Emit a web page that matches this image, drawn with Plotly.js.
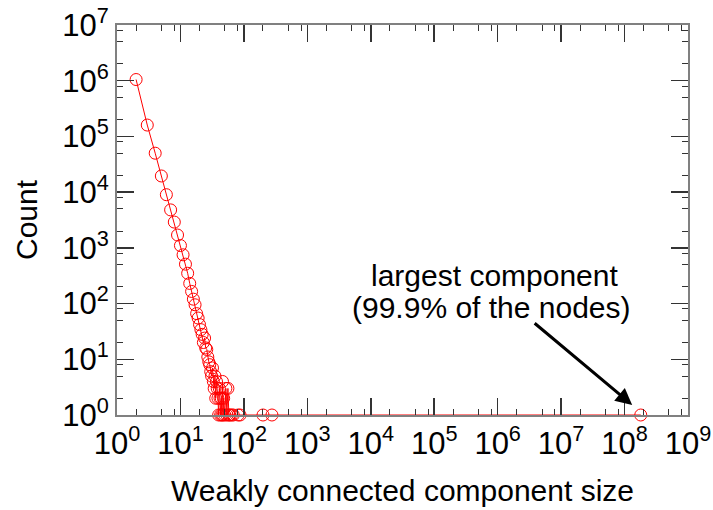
<!DOCTYPE html>
<html>
<head>
<meta charset="utf-8">
<script src="https://cdn.plot.ly/plotly-3.0.1.min.js"></script>
<style>html,body{margin:0;padding:0;background:#fff;}#chart{width:713px;height:510px;}</style>
</head>
<body>
<div id="chart"></div>
<script>
// Weakly connected component sizes and their counts
var componentSizes = [2,3,4,5,6,7,8,9,10,11,12,13,14,15,16,17,18,19,20,21,22,23,24,25,26,27,28,29,30,31,32,33,34,35,36,37,38,39,40,41,42,43,44,45,46,47,48,50,52,54,56,58,60,64,68,81,87,200,277,180000000];
var componentCounts = [1050000,160000,50000,19500,9000,4800,2900,1700,1100,750,510,350,230,165,120,95,66,55,42,34,28,20,24,16,15,11,9,8,6,5,7,4,3,5,2,4,3,2,1,3,2,1,2,1,4,1,2,1,3,1,3,1,1,1,1,1,1,1,1,1];

var xExponents = [0,1,2,3,4,5,6,7,8,9];
var yExponents = [0,1,2,3,4,5,6,7];
var minorMantissas = [2,5,8];

function tickVals(exps){ return exps.map(function(e){ return Math.pow(10, e); }); }
function tickText(exps){ return exps.map(function(e){ return '10<sup>' + e + '</sup>'; }); }
function minorVals(decades){
  var v = [];
  for (var d = 0; d < decades; d++) {
    minorMantissas.forEach(function(m){ v.push(m*Math.pow(10,d)); });
  }
  return v;
}

var font = 'Liberation Sans, Arial, sans-serif';

var trace = {
  x: componentSizes,
  y: componentCounts,
  type: 'scatter',
  mode: 'lines+markers',
  line: {color: 'rgb(255,0,0)', width: 1},
  marker: {symbol: 'circle-open', size: 12, color: 'rgb(255,0,0)', line: {width: 1, color: 'rgb(255,0,0)'}},
  cliponaxis: false,
  hoverinfo: 'x+y'
};

var axisCommon = {
  type: 'log',
  showgrid: false,
  zeroline: false,
  showline: true,
  linecolor: '#808080',
  linewidth: 2,
  mirror: 'ticks',
  ticks: 'inside',
  ticklen: 17,
  tickwidth: 1.5,
  tickcolor: '#333',
  tickmode: 'array',
  ticklabeloverflow: 'allow',
  tickfont: {family: font, size: 31, color: '#000'}
};

var layout = {
  width: 713,
  height: 510,
  margin: {l: 117, r: 25, t: 25, b: 95},
  paper_bgcolor: '#fff',
  plot_bgcolor: '#fff',
  showlegend: false,
  xaxis: Object.assign({}, axisCommon, {
    range: [0, 9],
    tickvals: tickVals(xExponents),
    ticktext: tickText(xExponents),
    minor: {tickmode: 'array', tickvals: minorVals(9), ticks: 'inside', ticklen: 6, tickwidth: 1, tickcolor: '#333'},
    title: {text: 'Weakly connected component size', font: {family: font, size: 30, color: '#000'}, standoff: 20}
  }),
  yaxis: Object.assign({}, axisCommon, {
    range: [0, 7],
    tickvals: tickVals(yExponents),
    ticktext: tickText(yExponents),
    minor: {tickmode: 'array', tickvals: minorVals(7), ticks: 'inside', ticklen: 6, tickwidth: 1, tickcolor: '#333'},
    title: {text: 'Count', font: {family: font, size: 30, color: '#000'}, standoff: 16}
  }),
  annotations: [
    {xref: 'x', yref: 'y', x: 5.95, y: 2.5, text: 'largest component', showarrow: false,
     font: {family: font, size: 30, color: '#000'}, xanchor: 'center', yanchor: 'middle'},
    {xref: 'x', yref: 'y', x: 5.91, y: 1.93, text: '(99.9% of the nodes)', showarrow: false,
     font: {family: font, size: 30, color: '#000'}, xanchor: 'center', yanchor: 'middle'},
    {xref: 'x', yref: 'y', x: 8.12, y: 0.18, text: '', showarrow: true,
     ax: -99, ay: -83, arrowcolor: '#000', arrowwidth: 3, arrowhead: 2, arrowsize: 1.1, standoff: 0}
  ]
};

Plotly.newPlot('chart', [trace], layout, {displayModeBar: false, staticPlot: true});
</script>
</body>
</html>
